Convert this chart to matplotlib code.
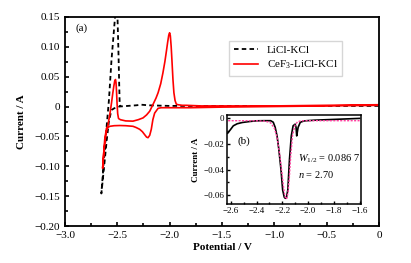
import numpy as np
import matplotlib
matplotlib.use("Agg")
import matplotlib.pyplot as plt
from matplotlib.ticker import MultipleLocator, FuncFormatter

plt.rcParams['font.family'] = ['Liberation Serif', 'DejaVu Serif']
plt.rcParams['mathtext.fontset'] = 'custom'
plt.rcParams['mathtext.rm'] = 'Liberation Serif'
plt.rcParams['mathtext.it'] = 'Liberation Serif:italic'

# main CV, LiCl-KCl blank (dashed)
blank_x = [0.0, -0.5, -1.0, -1.5, -2.0, -2.2, -2.27, -2.32, -2.40, -2.48, -2.53, -2.556,
           -2.58, -2.60, -2.62, -2.64, -2.652, -2.63, -2.60, -2.58, -2.555, -2.52, -2.512,
           -2.505, -2.498, -2.49, -2.482, -2.477, -2.47]
blank_y = [0.001, 0.001, 0.001, 0.001, 0.001, 0.002, 0.003, 0.002, 0.001, 0.0, -0.003, -0.006,
           -0.025, -0.055, -0.09, -0.125, -0.145, -0.095, -0.03, 0.01, 0.078, 0.152, 0.165,
           0.16, 0.15, 0.10, 0.04, 0.005, 0.001]

# main CV, CeF3-LiCl-KCl (red)
ce_x = [0.0, -0.5, -1.0, -1.5, -1.8, -2.0, -2.08, -2.11, -2.143, -2.16, -2.175, -2.19, -2.206,
        -2.22, -2.238, -2.26, -2.286, -2.32, -2.35, -2.42, -2.476, -2.53, -2.571, -2.603,
        -2.62, -2.64, -2.628, -2.61, -2.588, -2.57, -2.555, -2.543, -2.533, -2.524, -2.517,
        -2.512, -2.507, -2.502, -2.496, -2.488, -2.47, -2.42, -2.35, -2.30, -2.254, -2.22,
        -2.19, -2.16, -2.13, -2.11, -2.085, -2.064, -2.045, -2.03, -2.018, -2.008, -2.0,
        -1.993, -1.985, -1.978, -1.968, -1.959, -1.948, -1.936, -1.92, -1.88, -1.84, -1.7,
        -1.5, -1.0, -0.5, 0.0]
ce_y = [0.002, 0.001, 0.0, -0.001, -0.002, -0.002, -0.002, -0.003, -0.011, -0.022, -0.038,
        -0.048, -0.052, -0.051, -0.047, -0.042, -0.038, -0.035, -0.033, -0.032, -0.0317,
        -0.032, -0.033, -0.036, -0.055, -0.103, -0.075, -0.048, -0.030, -0.012, 0.006, 0.022,
        0.034, 0.043, 0.045, 0.040, 0.025, 0.005, -0.012, -0.020, -0.022, -0.024, -0.0244,
        -0.022, -0.019, -0.014, -0.0078, 0.003, 0.014, 0.023, 0.038, 0.056, 0.075, 0.093,
        0.108, 0.119, 0.123, 0.118, 0.100, 0.078, 0.045, 0.023, 0.010, 0.004, 0.003, 0.002,
        0.002, 0.001, 0.001, 0.001, 0.002, 0.003]

# inset: measured peak and fitted curve
exp_x = [-2.624, -2.60, -2.58, -2.55, -2.51, -2.45, -2.40, -2.34, -2.29, -2.27, -2.255, -2.24,
         -2.227, -2.21, -2.197, -2.185, -2.177, -2.168, -2.157, -2.144, -2.13, -2.116, -2.10,
         -2.093, -2.088, -2.082, -2.077, -2.06, -2.03, -2.01, -1.95, -1.90, -1.80, -1.70, -1.60]
exp_y = [-0.0116, -0.0085, -0.0058, -0.0042, -0.0032, -0.0024, -0.0019, -0.0018, -0.0018,
         -0.0030, -0.0070, -0.0140, -0.0240, -0.0400, -0.0560, -0.0615, -0.0625, -0.0620,
         -0.0560, -0.0320, -0.0137, -0.0058, -0.0045, -0.0070, -0.0137, -0.0100, -0.0070,
         -0.0030, -0.0020, -0.0018, -0.0014, -0.0012, -0.0008, -0.0004, 0.0]
fit_x = [-2.62, -2.50, -2.40, -2.33, -2.29, -2.26, -2.24, -2.22, -2.20, -2.19, -2.18, -2.172,
         -2.165, -2.155, -2.145, -2.135, -2.12, -2.10, -2.08, -2.05, -2.00, -1.80, -1.60]
fit_y = [-0.0018, -0.0018, -0.0019, -0.0022, -0.0035, -0.0080, -0.0150, -0.0280, -0.0450,
         -0.0540, -0.0605, -0.0630, -0.0625, -0.0580, -0.0460, -0.0300, -0.0130, -0.0050,
         -0.0025, -0.0019, -0.0018, -0.0018, -0.0018]


def fmt(dec):
    def f(v, pos):
        if abs(v) < 1e-9:
            return '0'
        return f'{v:.{dec}f}'.replace('-', '\u2212')
    return FuncFormatter(f)


fig = plt.figure(figsize=(4.11, 2.63), dpi=100)
ax = fig.add_axes([0.158, 0.139, 0.764, 0.798])

ax.plot(blank_x, blank_y, color='black', lw=1.3, ls=(0, (2.5, 1.8)), label='LiCl-KCl')
ax.plot(ce_x, ce_y, color='#ff0000', lw=1.2, label='CeF$_3$-LiCl-KCl')

ax.set_xlim(-3.0, 0.0)
ax.set_ylim(-0.20, 0.15)
ax.xaxis.set_major_locator(MultipleLocator(0.5))
ax.xaxis.set_minor_locator(MultipleLocator(0.25))
ax.yaxis.set_major_locator(MultipleLocator(0.05))
ax.yaxis.set_minor_locator(MultipleLocator(0.025))
ax.xaxis.set_major_formatter(fmt(1))
ax.yaxis.set_major_formatter(fmt(2))
ax.tick_params(which='both', direction='in', labelsize=8, width=1.2)
ax.tick_params(which='major', length=3)
ax.tick_params(which='minor', length=2)
for s in ax.spines.values():
    s.set_linewidth(1.3)
ax.set_xlabel('Potential / V', fontsize=8, fontweight='bold', labelpad=2)
ax.set_ylabel('Current / A', fontsize=8, fontweight='bold', labelpad=6)
ax.text(-2.9, 0.127, '(a)', fontsize=8)
ax.legend(loc='upper left', bbox_to_anchor=(0.505, 0.91), fontsize=8, frameon=True,
          fancybox=False, edgecolor='#cccccc', handlelength=2.2, borderpad=0.4,
          labelspacing=0.3)

ins = fig.add_axes([0.552, 0.224, 0.326, 0.338])
ins.plot(exp_x, exp_y, color='black', lw=1.2)
ins.plot(fit_x, fit_y, color='#ff3f9f', lw=1.0, ls=(0, (1.5, 1.0)))
ins.set_xlim(-2.63, -1.59)
ins.set_ylim(-0.067, 0.0025)
ins.xaxis.set_major_locator(MultipleLocator(0.2))
ins.xaxis.set_minor_locator(MultipleLocator(0.1))
ins.yaxis.set_major_locator(MultipleLocator(0.02))
ins.yaxis.set_minor_locator(MultipleLocator(0.01))
ins.xaxis.set_major_formatter(fmt(1))
ins.yaxis.set_major_formatter(fmt(2))
ins.tick_params(which='both', direction='in', labelsize=6.5, width=1.0, pad=2)
ins.tick_params(which='major', length=2.5)
ins.tick_params(which='minor', length=1.5)
for s in ins.spines.values():
    s.set_linewidth(1.1)
ins.set_ylabel('Current / A', fontsize=6.5, fontweight='bold', labelpad=2)
ins.text(-2.545, -0.0195, '(b)', fontsize=8)
ins.text(-2.08, -0.0335, '$W_{1/2}$ = 0.086 7', fontsize=7.5)
ins.text(-2.08, -0.0465, '$n$ = 2.70', fontsize=7.5)

fig.savefig('out.png', dpi=100)
